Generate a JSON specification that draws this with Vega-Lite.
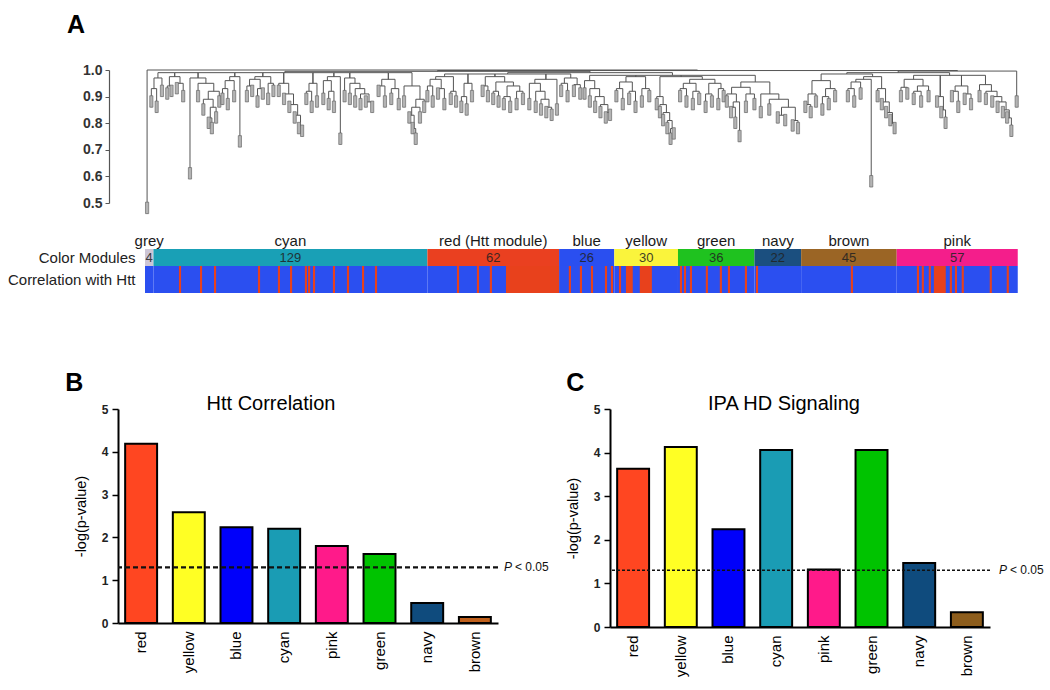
{
  "$schema": "https://vega.github.io/schema/vega-lite/v6.json",
  "background": "white",
  "padding": {"left": 7, "top": 13, "right": 5, "bottom": 5},
  "config": {"view": {"stroke": null}, "font": "Liberation Sans", "axis": {"grid": false}},
  "datasets": {
    "merges": [
      {"l":1,"r":260.2,"h":1,"hl":0.46,"hr":0.998},
      {"l":137.75,"r":382.6,"h":0.998,"hl":0.995,"hr":0.996},
      {"l":65.9,"r":209.6,"h":0.995,"hl":0.99,"hr":0.99},
      {"l":170.8,"r":248.4,"h":0.99,"hl":0.985,"hr":0.98},
      {"l":6.1,"r":14,"h":0.99,"hl":0.97,"hr":0.975},
      {"l":14,"r":25,"h":0.99,"hl":0.975,"hr":0.97},
      {"l":25,"r":42.3,"h":0.99,"hl":0.97,"hr":0.975},
      {"l":42.3,"r":55.5,"h":0.99,"hl":0.975,"hr":0.975},
      {"l":55.5,"r":65.35,"h":0.99,"hl":0.975,"hr":0.95},
      {"l":65.35,"r":79.1,"h":0.99,"hl":0.95,"hr":0.95},
      {"l":79.1,"r":88.95,"h":0.99,"hl":0.95,"hr":0.975},
      {"l":88.95,"r":96.45,"h":0.99,"hl":0.975,"hr":0.97},
      {"l":96.45,"r":114.6,"h":0.99,"hl":0.97,"hr":0.965},
      {"l":114.6,"r":125.75,"h":0.99,"hl":0.965,"hr":0.94},
      {"l":141.1,"r":152.1,"h":0.985,"hl":0.975,"hr":0.95},
      {"l":152.1,"r":164.8,"h":0.985,"hl":0.95,"hr":0.975},
      {"l":164.8,"r":188.8,"h":0.985,"hl":0.975,"hr":0.965},
      {"l":188.8,"r":200.5,"h":0.985,"hl":0.965,"hr":0.97},
      {"l":209.4,"r":231.1,"h":0.98,"hl":0.96,"hr":0.975},
      {"l":231.1,"r":252.5,"h":0.98,"hl":0.975,"hr":0.975},
      {"l":252.5,"r":287.4,"h":0.98,"hl":0.975,"hr":0.955},
      {"l":354.7,"r":410.5,"h":0.996,"hl":0.99,"hr":0.86},
      {"l":330.5,"r":378.9,"h":0.99,"hl":0.985,"hr":0.98},
      {"l":361.95,"r":374.5,"h":0.98,"hl":0.965,"hr":0.9},
      {"l":374.5,"r":384.5,"h":0.98,"hl":0.9,"hr":0.94},
      {"l":384.5,"r":395.8,"h":0.98,"hl":0.94,"hr":0.945},
      {"l":318.4,"r":342.65,"h":0.985,"hl":0.96,"hr":0.975},
      {"l":338.4,"r":346.9,"h":0.975,"hl":0.965,"hr":0.93},
      {"l":334.75,"r":342,"h":0.965,"hl":0.955,"hr":0.56},
      {"l":3,"r":5.5,"h":0.93,"hl":0.86,"hr":0.84},
      {"l":4.25,"r":8,"h":0.97,"hl":0.93,"hr":0.9},
      {"l":10.5,"r":12.5,"h":0.94,"hl":0.89,"hr":0.9},
      {"l":15,"r":18,"h":0.95,"hl":0.91,"hr":0.88},
      {"l":11.5,"r":16.5,"h":0.975,"hl":0.94,"hr":0.95},
      {"l":30,"r":31.5,"h":0.82,"hl":0.78,"hr":0.76},
      {"l":30.75,"r":33.5,"h":0.86,"hl":0.82,"hr":0.8},
      {"l":27.5,"r":32.1,"h":0.89,"hl":0.83,"hr":0.86},
      {"l":29.8,"r":35,"h":0.92,"hl":0.89,"hr":0.86},
      {"l":25,"r":32.4,"h":0.95,"hl":0.88,"hr":0.92},
      {"l":21.2,"r":28.7,"h":0.97,"hl":0.59,"hr":0.95},
      {"l":36.5,"r":39,"h":0.93,"hl":0.87,"hr":0.85},
      {"l":37.75,"r":42,"h":0.96,"hl":0.93,"hr":0.88},
      {"l":39.9,"r":44.7,"h":0.975,"hl":0.96,"hr":0.71},
      {"l":48,"r":50.5,"h":0.94,"hl":0.88,"hr":0.9},
      {"l":53,"r":55.5,"h":0.93,"hl":0.86,"hr":0.89},
      {"l":58,"r":60.5,"h":0.95,"hl":0.87,"hr":0.9},
      {"l":49.25,"r":54.25,"h":0.965,"hl":0.94,"hr":0.93},
      {"l":51.75,"r":59.25,"h":0.975,"hl":0.965,"hr":0.95},
      {"l":72.5,"r":74,"h":0.79,"hl":0.76,"hr":0.75},
      {"l":70.5,"r":73.25,"h":0.83,"hl":0.8,"hr":0.79},
      {"l":68,"r":71.9,"h":0.87,"hl":0.84,"hr":0.83},
      {"l":65.5,"r":69.95,"h":0.91,"hl":0.87,"hr":0.87},
      {"l":63,"r":67.7,"h":0.95,"hl":0.9,"hr":0.91},
      {"l":76,"r":78.5,"h":0.92,"hl":0.87,"hr":0.84},
      {"l":77.25,"r":81,"h":0.95,"hl":0.92,"hr":0.86},
      {"l":86.5,"r":89,"h":0.92,"hl":0.85,"hr":0.84},
      {"l":84,"r":87.75,"h":0.96,"hl":0.87,"hr":0.92},
      {"l":85.9,"r":92,"h":0.975,"hl":0.96,"hr":0.72},
      {"l":104,"r":107,"h":0.88,"hl":0.86,"hr":0.84},
      {"l":101.5,"r":105.5,"h":0.91,"hl":0.85,"hr":0.88},
      {"l":99,"r":103.5,"h":0.93,"hl":0.86,"hr":0.91},
      {"l":96.5,"r":101.25,"h":0.95,"hl":0.87,"hr":0.93},
      {"l":94,"r":98.9,"h":0.97,"hl":0.88,"hr":0.95},
      {"l":110,"r":113,"h":0.94,"hl":0.9,"hr":0.86},
      {"l":116,"r":119.5,"h":0.93,"hl":0.87,"hr":0.85},
      {"l":111.5,"r":117.75,"h":0.965,"hl":0.94,"hr":0.93},
      {"l":126,"r":127.5,"h":0.78,"hl":0.76,"hr":0.72},
      {"l":124.5,"r":126.75,"h":0.83,"hl":0.8,"hr":0.78},
      {"l":125.6,"r":129.5,"h":0.86,"hl":0.83,"hr":0.8},
      {"l":127.55,"r":131.5,"h":0.89,"hl":0.86,"hr":0.84},
      {"l":122,"r":129.5,"h":0.94,"hl":0.86,"hr":0.89},
      {"l":133,"r":135.5,"h":0.94,"hl":0.88,"hr":0.86},
      {"l":138,"r":141,"h":0.93,"hl":0.89,"hr":0.85},
      {"l":144,"r":146.5,"h":0.92,"hl":0.87,"hr":0.86},
      {"l":134.25,"r":139.5,"h":0.965,"hl":0.94,"hr":0.93},
      {"l":136.9,"r":145.25,"h":0.975,"hl":0.965,"hr":0.92},
      {"l":149,"r":151.5,"h":0.9,"hl":0.84,"hr":0.83},
      {"l":150.25,"r":154,"h":0.95,"hl":0.9,"hr":0.88},
      {"l":159,"r":161.5,"h":0.94,"hl":0.9,"hr":0.88},
      {"l":164,"r":166.5,"h":0.92,"hl":0.87,"hr":0.86},
      {"l":169,"r":172,"h":0.9,"hl":0.85,"hr":0.84},
      {"l":175,"r":178,"h":0.92,"hl":0.85,"hr":0.87},
      {"l":170.5,"r":176.5,"h":0.94,"hl":0.9,"hr":0.92},
      {"l":165.25,"r":173.5,"h":0.955,"hl":0.92,"hr":0.94},
      {"l":160.25,"r":169.4,"h":0.975,"hl":0.94,"hr":0.955},
      {"l":189,"r":191.5,"h":0.86,"hl":0.82,"hr":0.81},
      {"l":186.5,"r":190.25,"h":0.89,"hl":0.83,"hr":0.86},
      {"l":184,"r":188.4,"h":0.92,"hl":0.84,"hr":0.89},
      {"l":181,"r":186.2,"h":0.95,"hl":0.85,"hr":0.92},
      {"l":183.6,"r":194,"h":0.965,"hl":0.95,"hr":0.83},
      {"l":196,"r":199,"h":0.95,"hl":0.9,"hr":0.88},
      {"l":202,"r":205,"h":0.945,"hl":0.9,"hr":0.89},
      {"l":197.5,"r":203.5,"h":0.97,"hl":0.95,"hr":0.945},
      {"l":217,"r":219,"h":0.84,"hl":0.8,"hr":0.81},
      {"l":214.5,"r":218,"h":0.87,"hl":0.82,"hr":0.84},
      {"l":212,"r":216.25,"h":0.9,"hl":0.84,"hr":0.87},
      {"l":209.5,"r":214.1,"h":0.93,"hl":0.86,"hr":0.9},
      {"l":207,"r":211.8,"h":0.96,"hl":0.89,"hr":0.93},
      {"l":222,"r":225,"h":0.93,"hl":0.88,"hr":0.85},
      {"l":228,"r":231,"h":0.92,"hl":0.87,"hr":0.84},
      {"l":234,"r":237.5,"h":0.93,"hl":0.86,"hr":0.88},
      {"l":223.5,"r":229.5,"h":0.955,"hl":0.93,"hr":0.92},
      {"l":226.5,"r":235.75,"h":0.975,"hl":0.955,"hr":0.93},
      {"l":247.5,"r":249,"h":0.78,"hl":0.72,"hr":0.74},
      {"l":246,"r":248.25,"h":0.81,"hl":0.76,"hr":0.78},
      {"l":244,"r":247.1,"h":0.84,"hl":0.79,"hr":0.81},
      {"l":242.5,"r":245.55,"h":0.87,"hl":0.82,"hr":0.84},
      {"l":241,"r":244,"h":0.9,"hl":0.85,"hr":0.87},
      {"l":252,"r":255,"h":0.93,"hl":0.88,"hr":0.86},
      {"l":258,"r":261,"h":0.92,"hl":0.85,"hr":0.87},
      {"l":264,"r":267,"h":0.91,"hl":0.84,"hr":0.86},
      {"l":270,"r":272.5,"h":0.93,"hl":0.85,"hr":0.88},
      {"l":253.5,"r":259.5,"h":0.95,"hl":0.93,"hr":0.92},
      {"l":265.5,"r":271.25,"h":0.95,"hl":0.91,"hr":0.93},
      {"l":256.5,"r":268.4,"h":0.965,"hl":0.95,"hr":0.95},
      {"l":242.5,"r":262.45,"h":0.975,"hl":0.9,"hr":0.965},
      {"l":276,"r":278,"h":0.86,"hl":0.82,"hr":0.78},
      {"l":277,"r":280,"h":0.88,"hl":0.86,"hr":0.73},
      {"l":274,"r":278.5,"h":0.91,"hl":0.86,"hr":0.88},
      {"l":283,"r":287,"h":0.91,"hl":0.84,"hr":0.85},
      {"l":276.25,"r":285,"h":0.935,"hl":0.91,"hr":0.91},
      {"l":298,"r":301.5,"h":0.83,"hl":0.8,"hr":0.79},
      {"l":305,"r":307.5,"h":0.81,"hl":0.77,"hr":0.76},
      {"l":299.75,"r":306.25,"h":0.86,"hl":0.83,"hr":0.81},
      {"l":294,"r":303,"h":0.89,"hl":0.83,"hr":0.86},
      {"l":290,"r":298.5,"h":0.91,"hl":0.82,"hr":0.89},
      {"l":280.6,"r":294.25,"h":0.955,"hl":0.935,"hr":0.91},
      {"l":311,"r":313.5,"h":0.87,"hl":0.84,"hr":0.82},
      {"l":312.25,"r":316,"h":0.91,"hl":0.87,"hr":0.86},
      {"l":319,"r":322,"h":0.9,"hl":0.83,"hr":0.85},
      {"l":320.5,"r":325,"h":0.93,"hl":0.9,"hr":0.88},
      {"l":314.1,"r":322.75,"h":0.96,"hl":0.91,"hr":0.93},
      {"l":331,"r":334,"h":0.93,"hl":0.88,"hr":0.86},
      {"l":332.5,"r":337,"h":0.955,"hl":0.93,"hr":0.89},
      {"l":351,"r":353,"h":0.8,"hl":0.79,"hr":0.76},
      {"l":349,"r":352,"h":0.84,"hl":0.82,"hr":0.8},
      {"l":347,"r":350.5,"h":0.88,"hl":0.85,"hr":0.84},
      {"l":345,"r":348.75,"h":0.93,"hl":0.88,"hr":0.88},
      {"l":356,"r":359,"h":0.935,"hl":0.88,"hr":0.89},
      {"l":362,"r":365.5,"h":0.92,"hl":0.87,"hr":0.86},
      {"l":363.75,"r":369,"h":0.94,"hl":0.92,"hr":0.88},
      {"l":357.5,"r":366.4,"h":0.965,"hl":0.935,"hr":0.94},
      {"l":375,"r":377,"h":0.85,"hl":0.82,"hr":0.78},
      {"l":373,"r":376,"h":0.9,"hl":0.86,"hr":0.85},
      {"l":380,"r":383,"h":0.92,"hl":0.88,"hr":0.84},
      {"l":386,"r":389,"h":0.91,"hl":0.87,"hr":0.85},
      {"l":381.5,"r":387.5,"h":0.94,"hl":0.92,"hr":0.91},
      {"l":406,"r":408,"h":0.82,"hl":0.8,"hr":0.75},
      {"l":404,"r":407,"h":0.85,"hl":0.82,"hr":0.82},
      {"l":401.5,"r":405.5,"h":0.88,"hl":0.84,"hr":0.85},
      {"l":399,"r":403.5,"h":0.9,"hl":0.86,"hr":0.88},
      {"l":396,"r":401.25,"h":0.92,"hl":0.87,"hr":0.9},
      {"l":393,"r":398.6,"h":0.945,"hl":0.88,"hr":0.92}
    ],
    "leaves": [
      {"x":1,"h":0.46},{"x":3,"h":0.86},{"x":5.5,"h":0.84},{"x":8,"h":0.9},{"x":10.5,"h":0.89},{"x":12.5,"h":0.9},{"x":15,"h":0.91},{"x":18,"h":0.88},{"x":21.2,"h":0.59},{"x":25,"h":0.88},{"x":27.5,"h":0.83},{"x":30,"h":0.78},{"x":31.5,"h":0.76},{"x":33.5,"h":0.8},{"x":35,"h":0.86},{"x":36.5,"h":0.87},{"x":39,"h":0.85},{"x":42,"h":0.88},{"x":44.7,"h":0.71},{"x":48,"h":0.88},{"x":50.5,"h":0.9},{"x":53,"h":0.86},{"x":55.5,"h":0.89},{"x":58,"h":0.87},{"x":60.5,"h":0.9},{"x":63,"h":0.9},{"x":65.5,"h":0.87},{"x":68,"h":0.84},{"x":70.5,"h":0.8},{"x":72.5,"h":0.76},{"x":74,"h":0.75},{"x":76,"h":0.87},{"x":78.5,"h":0.84},{"x":81,"h":0.86},{"x":84,"h":0.87},{"x":86.5,"h":0.85},{"x":89,"h":0.84},{"x":92,"h":0.72},{"x":94,"h":0.88},{"x":96.5,"h":0.87},{"x":99,"h":0.86},{"x":101.5,"h":0.85},{"x":104,"h":0.86},{"x":107,"h":0.84},{"x":110,"h":0.9},{"x":113,"h":0.86},{"x":116,"h":0.87},{"x":119.5,"h":0.85},{"x":122,"h":0.86},{"x":124.5,"h":0.8},{"x":126,"h":0.76},{"x":127.5,"h":0.72},{"x":129.5,"h":0.8},{"x":131.5,"h":0.84},{"x":133,"h":0.88},{"x":135.5,"h":0.86},{"x":138,"h":0.89},{"x":141,"h":0.85},{"x":144,"h":0.87},{"x":146.5,"h":0.86},{"x":149,"h":0.84},{"x":151.5,"h":0.83},{"x":154,"h":0.88},{"x":159,"h":0.9},{"x":161.5,"h":0.88},{"x":164,"h":0.87},{"x":166.5,"h":0.86},{"x":169,"h":0.85},{"x":172,"h":0.84},{"x":175,"h":0.85},{"x":178,"h":0.87},{"x":181,"h":0.85},{"x":184,"h":0.84},{"x":186.5,"h":0.83},{"x":189,"h":0.82},{"x":191.5,"h":0.81},{"x":194,"h":0.83},{"x":196,"h":0.9},{"x":199,"h":0.88},{"x":202,"h":0.9},{"x":205,"h":0.89},{"x":207,"h":0.89},{"x":209.5,"h":0.86},{"x":212,"h":0.84},{"x":214.5,"h":0.82},{"x":217,"h":0.8},{"x":219,"h":0.81},{"x":222,"h":0.88},{"x":225,"h":0.85},{"x":228,"h":0.87},{"x":231,"h":0.84},{"x":234,"h":0.86},{"x":237.5,"h":0.88},{"x":241,"h":0.85},{"x":242.5,"h":0.82},{"x":244,"h":0.79},{"x":246,"h":0.76},{"x":247.5,"h":0.72},{"x":249,"h":0.74},{"x":252,"h":0.88},{"x":255,"h":0.86},{"x":258,"h":0.85},{"x":261,"h":0.87},{"x":264,"h":0.84},{"x":267,"h":0.86},{"x":270,"h":0.85},{"x":272.5,"h":0.88},{"x":274,"h":0.86},{"x":276,"h":0.82},{"x":278,"h":0.78},{"x":280,"h":0.73},{"x":283,"h":0.84},{"x":287,"h":0.85},{"x":290,"h":0.82},{"x":294,"h":0.83},{"x":298,"h":0.8},{"x":301.5,"h":0.79},{"x":305,"h":0.77},{"x":307.5,"h":0.76},{"x":311,"h":0.84},{"x":313.5,"h":0.82},{"x":316,"h":0.86},{"x":319,"h":0.83},{"x":322,"h":0.85},{"x":325,"h":0.88},{"x":331,"h":0.88},{"x":334,"h":0.86},{"x":337,"h":0.89},{"x":342,"h":0.56},{"x":345,"h":0.88},{"x":347,"h":0.85},{"x":349,"h":0.82},{"x":351,"h":0.79},{"x":353,"h":0.76},{"x":356,"h":0.88},{"x":359,"h":0.89},{"x":362,"h":0.87},{"x":365.5,"h":0.86},{"x":369,"h":0.88},{"x":373,"h":0.86},{"x":375,"h":0.82},{"x":377,"h":0.78},{"x":380,"h":0.88},{"x":383,"h":0.84},{"x":386,"h":0.87},{"x":389,"h":0.85},{"x":393,"h":0.88},{"x":396,"h":0.87},{"x":399,"h":0.86},{"x":401.5,"h":0.84},{"x":404,"h":0.82},{"x":406,"h":0.8},{"x":408,"h":0.75},{"x":410.5,"h":0.86}
    ],
    "modules": [
      {"module":"grey","label":"grey","start":0,"end":4,"n":4},
      {"module":"cyan","label":"cyan","start":4,"end":133,"n":129},
      {"module":"red","label":"red (Htt module)","start":133,"end":195,"n":62},
      {"module":"blue","label":"blue","start":195,"end":221,"n":26},
      {"module":"yellow","label":"yellow","start":221,"end":251,"n":30},
      {"module":"green","label":"green","start":251,"end":287,"n":36},
      {"module":"navy","label":"navy","start":287,"end":309,"n":22},
      {"module":"brown","label":"brown","start":309,"end":354,"n":45},
      {"module":"pink","label":"pink","start":354,"end":411,"n":57}
    ],
    "stripes": [
      {"s":16,"e":17},{"s":25.9,"e":26.9},{"s":32.5,"e":33.5},{"s":53.2,"e":54.2},{"s":62.6,"e":63.6},{"s":68.3,"e":69.3},{"s":75.3,"e":76.3},{"s":76.8,"e":77.8},{"s":79.1,"e":80.1},{"s":88.5,"e":89.5},{"s":95.1,"e":96.1},{"s":102.2,"e":103.2},{"s":108.3,"e":109.3},{"s":146.9,"e":147.9},{"s":156.3,"e":157.3},{"s":162.4,"e":163.4},{"s":170,"e":195},{"s":199.6,"e":200.6},{"s":204.8,"e":205.8},{"s":210,"e":211},{"s":216.6,"e":217.6},{"s":219.4,"e":220.4},{"s":223.2,"e":224.2},{"s":226.5,"e":229.7},{"s":233,"e":238.7},{"s":251.9,"e":252.9},{"s":253.8,"e":254.8},{"s":256.6,"e":257.6},{"s":264.1,"e":265.1},{"s":270.7,"e":271.7},{"s":274.5,"e":275.5},{"s":282.5,"e":283.5},{"s":287.7,"e":288.7},{"s":332.4,"e":333.4},{"s":363.5,"e":364.5},{"s":365.8,"e":366.8},{"s":369.1,"e":370.1},{"s":371.5,"e":377.1},{"s":379,"e":380},{"s":381.4,"e":382.4},{"s":384.6,"e":385.6},{"s":397.8,"e":398.8},{"s":405.8,"e":406.8}
    ],
    "htt": [
      {"mod":"red","v":4.19},{"mod":"yellow","v":2.59},{"mod":"blue","v":2.24},{"mod":"cyan","v":2.2},{"mod":"pink","v":1.8},{"mod":"green","v":1.61},{"mod":"navy","v":0.47},{"mod":"brown","v":0.14}
    ],
    "ipa": [
      {"mod":"red","v":3.63},{"mod":"yellow","v":4.13},{"mod":"blue","v":2.24},{"mod":"cyan","v":4.06},{"mod":"pink","v":1.32},{"mod":"green","v":4.06},{"mod":"navy","v":1.47},{"mod":"brown","v":0.34}
    ],
    "thr": [{"t": 1.3, "p": "P", "rest": "< 0.05"}]
  },
  "resolve": {"scale": {"color": "independent"}},
  "spacing": 78,
  "vconcat": [
    {
      "spacing": 19,
      "resolve": {"scale": {"color": "independent"}},
      "vconcat": [
        {
          "width": 904,
          "height": 133,
          "title": {"text": "A", "anchor": "start", "frame": "group", "dx": -51, "offset": 0, "fontSize": 25, "fontWeight": "bold", "baseline": "bottom", "color": "#000"},
          "encoding": {
            "y": {"field": "h", "type": "quantitative", "scale": {"domain": [0.5, 1], "nice": false, "zero": false},
              "axis": {"values": [0.5, 0.6, 0.7, 0.8, 0.9, 1.0], "format": ".1f", "title": null, "offset": 9, "domainColor": "#555", "domainWidth": 1.2, "tickColor": "#555", "tickSize": 4, "labelFontSize": 14, "labelFontWeight": "bold", "labelColor": "#333", "labelPadding": 3}}
          },
          "layer": [
            {
              "data": {"name": "merges"},
              "mark": {"type": "rule", "color": "#555555", "strokeWidth": 1},
              "encoding": {
                "x": {"field": "l", "type": "quantitative", "scale": {"domain": [-12.7, 413], "nice": false, "zero": false}, "axis": null},
                "x2": {"field": "r"}
              }
            },
            {
              "data": {"name": "merges"},
              "mark": {"type": "rule", "color": "#555555", "strokeWidth": 1},
              "encoding": {
                "x": {"field": "l", "type": "quantitative", "axis": null},
                "y2": {"field": "hl"}
              }
            },
            {
              "data": {"name": "merges"},
              "mark": {"type": "rule", "color": "#555555", "strokeWidth": 1},
              "encoding": {
                "x": {"field": "r", "type": "quantitative", "axis": null},
                "y2": {"field": "hr"}
              }
            },
            {
              "data": {"name": "leaves"},
              "mark": {"type": "point", "shape": "M-0.32,-2.3V0H0.32V-2.3Z", "size": 100, "filled": true, "fill": "#b4b4b4", "stroke": "#5a5a5a", "strokeWidth": 0.6, "opacity": 1},
              "encoding": {
                "x": {"field": "x", "type": "quantitative", "axis": null}
              }
            }
          ]
        },
        {
          "width": 904,
          "height": 44,
          "data": {"name": "modules"},
          "transform": [{"calculate": "(datum.start + datum.end) / 2", "as": "mid"}],
          "layer": [
            {
              "mark": {"type": "rect"},
              "encoding": {
                "x": {"field": "start", "type": "quantitative", "scale": {"domain": [-12.7, 413], "nice": false, "zero": false}, "axis": null},
                "x2": {"field": "end"},
                "y": {"datum": 27, "type": "quantitative", "scale": {"domain": [0, 44], "nice": false, "zero": false},
                  "axis": {"values": [35.5, 13.5], "labelExpr": "datum.value > 20 ? 'Color Modules' : 'Correlation with Htt'", "domain": false, "ticks": false, "grid": false, "labelPadding": -17, "labelFontSize": 15, "labelColor": "#222", "title": null, "zindex": 1}},
                "y2": {"datum": 44},
                "color": {"field": "module", "type": "nominal", "legend": null,
                  "scale": {"domain": ["grey","cyan","red","blue","yellow","green","navy","brown","pink"], "range": ["#cdc6d6","#19a0b6","#ea4020","#2a4ff0","#faf43c","#1fc21f","#1b4f7f","#9b6525","#f41e8b"]}}
              }
            },
            {
              "mark": {"type": "rect", "color": "#2b4ff0"},
              "encoding": {
                "x": {"field": "start", "type": "quantitative"},
                "x2": {"field": "end"},
                "y": {"datum": 0, "type": "quantitative"},
                "y2": {"datum": 27}
              }
            },
            {
              "data": {"name": "stripes"},
              "mark": {"type": "rect", "color": "#e8411c"},
              "encoding": {
                "x": {"field": "s", "type": "quantitative"},
                "x2": {"field": "e"},
                "y": {"datum": 0, "type": "quantitative"},
                "y2": {"datum": 27}
              }
            },
            {
              "mark": {"type": "text", "fontSize": 15, "color": "#1a1a1a", "dy": -8, "baseline": "middle", "align": "center"},
              "encoding": {
                "x": {"field": "mid", "type": "quantitative"},
                "y": {"datum": 44, "type": "quantitative"},
                "text": {"field": "label"}
              }
            },
            {
              "mark": {"type": "text", "fontSize": 13, "color": "#222", "opacity": 0.85, "baseline": "middle", "align": "center"},
              "encoding": {
                "x": {"field": "mid", "type": "quantitative"},
                "y": {"datum": 35.5, "type": "quantitative"},
                "text": {"field": "n"}
              }
            }
          ]
        }
      ]
    },
    {
      "spacing": 16,
      "resolve": {"scale": {"color": "independent"}},
      "hconcat": [
        {
          "title": {"text": "B", "anchor": "start", "frame": "bounds", "dx": -8, "offset": -27, "fontSize": 25, "fontWeight": "bold", "baseline": "bottom", "color": "#000"},
          "vconcat": [
            {
              "width": 380,
              "height": 214,
              "title": {"text": "Htt Correlation", "fontSize": 20, "fontWeight": "normal", "anchor": "middle", "frame": "group", "dx": -37, "offset": -31, "baseline": "bottom", "color": "#000"},
              "layer": [
                {
                  "data": {"name": "htt"},
                  "mark": {"type": "bar", "stroke": "#000", "strokeWidth": 2},
                  "encoding": {
                    "x": {"field": "mod", "type": "nominal", "scale": {"domain": ["red","yellow","blue","cyan","pink","green","navy","brown"], "paddingInner": 0.33, "paddingOuter": 0.15},
                      "axis": {"title": null, "labelAngle": -90, "labelFontSize": 15, "labelColor": "#000", "ticks": false, "labelPadding": 8, "domainColor": "#000", "domainWidth": 2}},
                    "y": {"field": "v", "type": "quantitative", "scale": {"domain": [0, 5], "nice": false},
                      "axis": {"values": [0,1,2,3,4,5], "title": "-log(p-value)", "titleFontSize": 14.5, "titleFontWeight": "normal", "titleColor": "#000", "titlePadding": 13, "labelFontSize": 12, "labelFontWeight": "bold", "labelColor": "#222", "domainColor": "#000", "domainWidth": 2, "tickColor": "#000", "tickSize": 6, "tickWidth": 1.5, "labelPadding": 4}},
                    "color": {"field": "mod", "type": "nominal", "legend": null,
                      "scale": {"domain": ["red","yellow","blue","cyan","pink","green","navy","brown"], "range": ["#ff4621","#ffff24","#0000fa","#1a9cb4","#ff1a8a","#00c300","#0f4b7d","#c0601c"]}}
                  }
                },
                {
                  "data": {"name": "thr"},
                  "mark": {"type": "rule", "strokeDash": [5, 3], "strokeWidth": 2.2, "color": "#111"},
                  "encoding": {"y": {"field": "t", "type": "quantitative"}}
                },
                {
                  "data": {"name": "thr"},
                  "mark": {"type": "text", "fontStyle": "italic", "fontSize": 12, "align": "left", "baseline": "middle", "dx": 29, "color": "#111"},
                  "encoding": {"x": {"datum": "brown"}, "y": {"field": "t", "type": "quantitative"}, "text": {"field": "p"}}
                },
                {
                  "data": {"name": "thr"},
                  "mark": {"type": "text", "fontSize": 12, "align": "left", "baseline": "middle", "dx": 40, "color": "#111"},
                  "encoding": {"x": {"datum": "brown"}, "y": {"field": "t", "type": "quantitative"}, "text": {"field": "rest"}}
                }
              ]
            }
          ]
        },
        {
          "title": {"text": "C", "anchor": "start", "frame": "bounds", "dx": 1, "offset": -27, "fontSize": 25, "fontWeight": "bold", "baseline": "bottom", "color": "#000"},
          "vconcat": [
            {
              "width": 380,
              "height": 218,
              "title": {"text": "IPA HD Signaling", "fontSize": 20, "fontWeight": "normal", "anchor": "middle", "frame": "group", "dx": -16, "offset": -31, "baseline": "bottom", "color": "#000"},
              "layer": [
                {
                  "data": {"name": "ipa"},
                  "mark": {"type": "bar", "stroke": "#000", "strokeWidth": 2},
                  "encoding": {
                    "x": {"field": "mod", "type": "nominal", "scale": {"domain": ["red","yellow","blue","cyan","pink","green","navy","brown"], "paddingInner": 0.33, "paddingOuter": 0.15},
                      "axis": {"title": null, "labelAngle": -90, "labelFontSize": 15, "labelColor": "#000", "ticks": false, "labelPadding": 8, "domainColor": "#000", "domainWidth": 2}},
                    "y": {"field": "v", "type": "quantitative", "scale": {"domain": [0, 5], "nice": false},
                      "axis": {"values": [0,1,2,3,4,5], "title": "-log(p-value)", "titleFontSize": 14.5, "titleFontWeight": "normal", "titleColor": "#000", "titlePadding": 13, "labelFontSize": 12, "labelFontWeight": "bold", "labelColor": "#222", "domainColor": "#000", "domainWidth": 2, "tickColor": "#000", "tickSize": 6, "tickWidth": 1.5, "labelPadding": 4}},
                    "color": {"field": "mod", "type": "nominal", "legend": null,
                      "scale": {"domain": ["red","yellow","blue","cyan","pink","green","navy","brown"], "range": ["#ff4621","#ffff24","#0000fa","#1a9cb4","#ff1a8a","#00c300","#0f4b7d","#8d5d1c"]}}
                  }
                },
                {
                  "data": {"name": "thr"},
                  "mark": {"type": "rule", "strokeDash": [3, 2], "strokeWidth": 1.6, "color": "#111"},
                  "encoding": {"y": {"field": "t", "type": "quantitative"}}
                },
                {
                  "data": {"name": "thr"},
                  "mark": {"type": "text", "fontStyle": "italic", "fontSize": 12, "align": "left", "baseline": "middle", "dx": 32, "color": "#111"},
                  "encoding": {"x": {"datum": "brown"}, "y": {"field": "t", "type": "quantitative"}, "text": {"field": "p"}}
                },
                {
                  "data": {"name": "thr"},
                  "mark": {"type": "text", "fontSize": 12, "align": "left", "baseline": "middle", "dx": 43, "color": "#111"},
                  "encoding": {"x": {"datum": "brown"}, "y": {"field": "t", "type": "quantitative"}, "text": {"field": "rest"}}
                }
              ]
            }
          ]
        }
      ]
    }
  ]
}
